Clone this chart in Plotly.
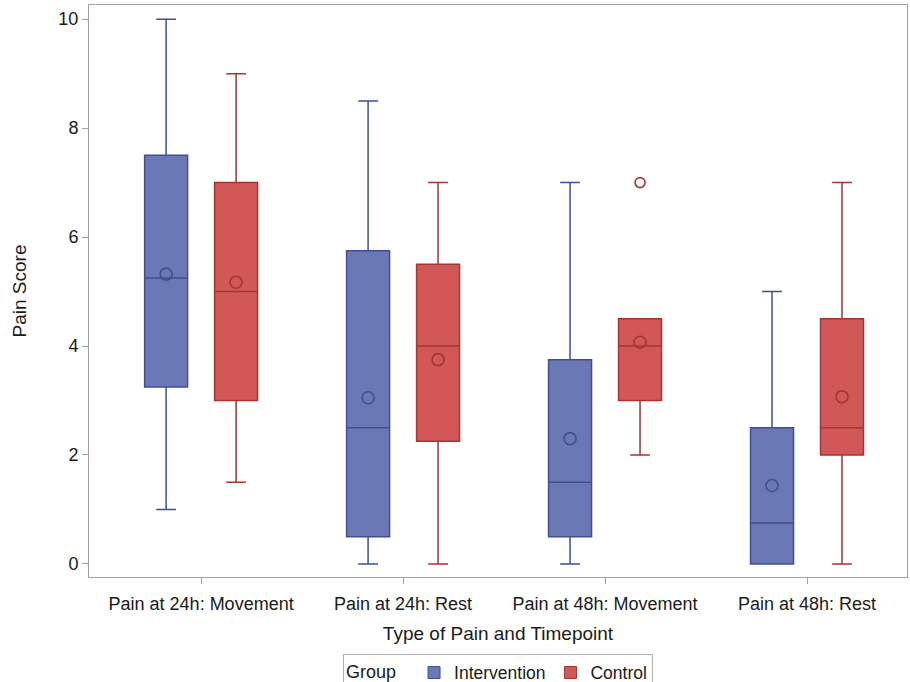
import plotly.graph_objects as go

categories = ["Pain at 24h: Movement", "Pain at 24h: Rest",
              "Pain at 48h: Movement", "Pain at 48h: Rest"]

# Intervention group
int_low = [1.0, 0.0, 0.0, 0.0]
int_q1 = [3.25, 0.5, 0.5, 0.0]
int_med = [5.25, 2.5, 1.5, 0.75]
int_q3 = [7.5, 5.75, 3.75, 2.5]
int_high = [10.0, 8.5, 7.0, 5.0]
int_mean = [5.32, 3.05, 2.3, 1.44]

# Control group
ctl_low = [1.5, 0.0, 2.0, 0.0]
ctl_q1 = [3.0, 2.25, 3.0, 2.0]
ctl_med = [5.0, 4.0, 4.0, 2.5]
ctl_q3 = [7.0, 5.5, 4.5, 4.5]
ctl_high = [9.0, 7.0, 4.5, 7.0]
ctl_mean = [5.17, 3.75, 4.07, 3.07]

ctl_out_x = ["Pain at 48h: Movement"]
ctl_out_y = [7.0]

BLUE_FILL = "#6a79b5"
BLUE_LINE = "#3f4f92"
RED_FILL = "#d25858"
RED_LINE = "#a23634"

fig = go.Figure()

fig.add_trace(go.Box(
    x=categories, q1=int_q1, median=int_med, q3=int_q3,
    lowerfence=int_low, upperfence=int_high,
    name="Intervention", offsetgroup="Intervention",
    fillcolor=BLUE_FILL, line=dict(color=BLUE_LINE, width=1.5),
    whiskerwidth=0.46, boxpoints=False, showlegend=False, hoverinfo="skip",
))
fig.add_trace(go.Box(
    x=categories, q1=ctl_q1, median=ctl_med, q3=ctl_q3,
    lowerfence=ctl_low, upperfence=ctl_high,
    name="Control", offsetgroup="Control",
    fillcolor=RED_FILL, line=dict(color=RED_LINE, width=1.5),
    whiskerwidth=0.46, boxpoints=False, showlegend=False, hoverinfo="skip",
))

# mean markers
fig.add_trace(go.Scatter(
    x=categories, y=int_mean, mode="markers", offsetgroup="Intervention",
    marker=dict(symbol="circle-open", size=12, color=BLUE_LINE, line=dict(width=1.6)),
    showlegend=False, hoverinfo="skip",
))
fig.add_trace(go.Scatter(
    x=categories, y=ctl_mean, mode="markers", offsetgroup="Control",
    marker=dict(symbol="circle-open", size=12, color=RED_LINE, line=dict(width=1.6)),
    showlegend=False, hoverinfo="skip",
))
# outlier
fig.add_trace(go.Scatter(
    x=ctl_out_x, y=ctl_out_y, mode="markers", offsetgroup="Control",
    marker=dict(symbol="circle-open", size=10, color=RED_LINE, line=dict(width=1.6)),
    showlegend=False, hoverinfo="skip",
))

# legend entries
fig.add_trace(go.Scatter(
    x=[None], y=[None], mode="markers", name="Intervention",
    marker=dict(symbol="square", size=12, color=BLUE_FILL, line=dict(color=BLUE_LINE, width=1)),
))
fig.add_trace(go.Scatter(
    x=[None], y=[None], mode="markers", name="Control",
    marker=dict(symbol="square", size=12, color=RED_FILL, line=dict(color=RED_LINE, width=1)),
))

fig.update_layout(
    width=910, height=682,
    paper_bgcolor="white", plot_bgcolor="white",
    margin=dict(l=89, r=3, t=5, b=105, autoexpand=False),
    font=dict(family="Liberation Sans, Arial, sans-serif", size=18, color="#1a1a1a"),
    boxmode="group", boxgap=0.307, boxgroupgap=0.386,
    scattermode="group", scattergap=0.307,
    legend=dict(
        orientation="h", x=0.5, xanchor="center",
        yref="paper", y=-0.134, yanchor="top",
        title=dict(text="Group  ", font=dict(size=18), side="left"),
        bordercolor="#b0b0b0", borderwidth=1,
        font=dict(size=17.5), itemwidth=30, tracegroupgap=0,
    ),
)
fig.update_xaxes(
    type="category", categoryorder="array", categoryarray=categories,
    range=[-0.555, 3.495], automargin=False,
    title=dict(text="Type of Pain and Timepoint", standoff=14, font=dict(size=19)),
    showline=True, mirror=True, linecolor="#a0a0a0", linewidth=1,
    ticks="outside", ticklen=6, tickcolor="#a0a0a0", ticklabelstandoff=4,
    showgrid=False, zeroline=False, tickfont=dict(size=18),
)
fig.update_yaxes(
    range=[-0.24, 10.26], tickvals=[0, 2, 4, 6, 8, 10], automargin=False,
    title=dict(text="Pain Score", standoff=26, font=dict(size=19)),
    showline=True, mirror=True, linecolor="#a0a0a0", linewidth=1,
    ticks="outside", ticklen=6, tickcolor="#a0a0a0",
    showgrid=False, zeroline=False, tickfont=dict(size=18),
)

fig.write_html("out.html", config={"displayModeBar": False},
               post_script="document.body.style.margin='0';")
